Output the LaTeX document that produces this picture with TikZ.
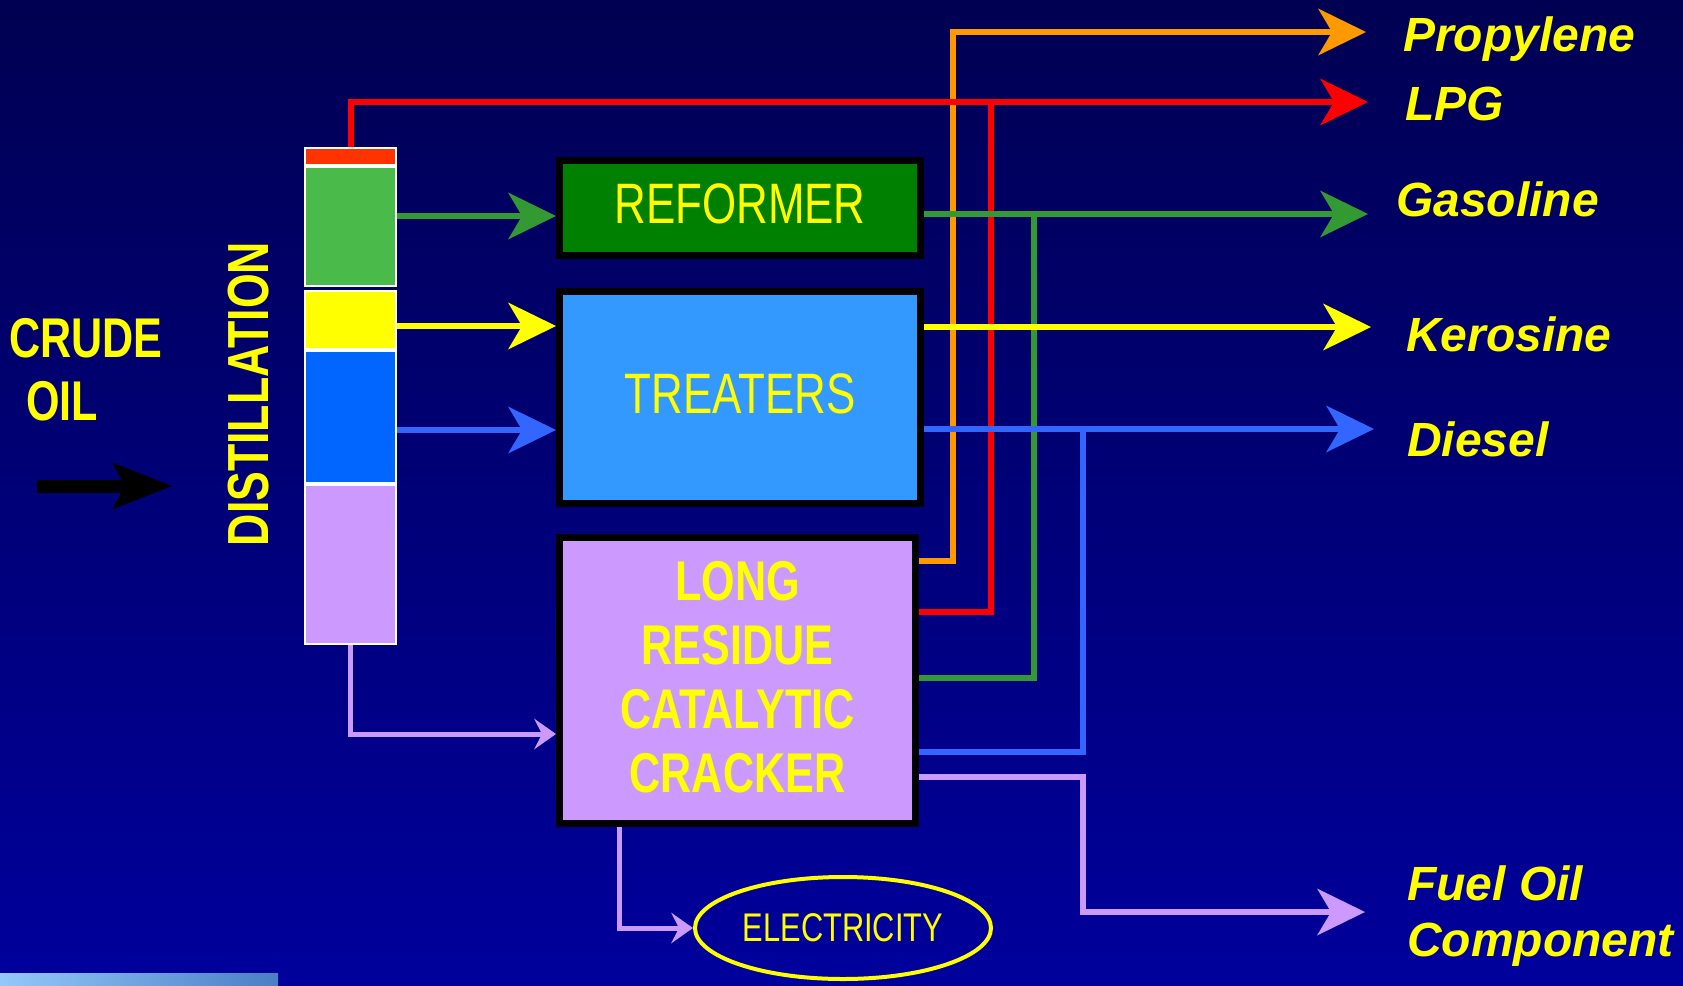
\documentclass[tikz,border=0pt]{standalone}
\usepackage{fontspec}
\setmainfont{Liberation Sans}
\newfontfamily\condfont[FakeStretch=0.77]{Liberation Sans}
\usepackage{tikz}
\usetikzlibrary{arrows.meta,shapes.geometric}
\definecolor{bgtop}{HTML}{000052}
\definecolor{bgbot}{HTML}{00009C}
\definecolor{flowred}{HTML}{FF0000}
\definecolor{floworange}{HTML}{FF9900}
\definecolor{flowgreen}{HTML}{339933}
\definecolor{flowyellow}{HTML}{FFFF00}
\definecolor{flowblue}{HTML}{3366FF}
\definecolor{flowlilac}{HTML}{CC99FF}
\definecolor{cutred}{HTML}{FF3300}
\definecolor{cutgreen}{HTML}{4ABA4A}
\definecolor{cutblue}{HTML}{0066FF}
\definecolor{reformgreen}{HTML}{008000}
\definecolor{treatblue}{HTML}{3399FF}
\definecolor{barlight}{HTML}{94C8FA}
\definecolor{bardark}{HTML}{4A7EC6}
\tikzset{
  flowline/.style={line width=6pt},
  flowarrow/.style={flowline,-{Stealth[length=48pt,width=47pt,inset=14pt,line width=0pt]}},
  smallarrow/.style={line width=5pt,-{Stealth[length=22pt,width=31pt,inset=8pt,line width=0pt]}},
  feedarrow/.style={line width=13pt,black,-{Stealth[length=60pt,width=47pt,inset=13pt,line width=0pt]}},
  cell/.style={draw=white,line width=2pt,minimum width=91pt,inner sep=0pt},
  unitbox/.style={draw=black,line width=7pt,text=flowyellow,align=center,inner sep=0pt,text depth=8pt,
    font=\condfont\fontsize{57}{64}\selectfont},
  heading/.style={text=flowyellow,inner sep=0pt,font=\condfont\bfseries\fontsize{56}{63}\selectfont},
  product/.style={text=flowyellow,inner sep=0pt,anchor=base west,align=left,
    font=\bfseries\itshape\fontsize{48}{56}\selectfont}
}

\begin{document}
\begin{tikzpicture}[x=1pt,y=-1pt]
    \useasboundingbox (0,0) rectangle (1683,985);
    \shade[top color=bgtop,bottom color=bgbot] (0,0) rectangle (1683,985);
    \shade[left color=barlight,right color=bardark] (0,973) rectangle (278,985);

    \node[heading,anchor=base] (crude) at (86,357) {CRUDE};
    \node[heading,anchor=base] (oil) at (62,420) {OIL};
    \coordinate (feedtail) at (37,486);
    \coordinate (feedtip) at (172,486);
    \draw[feedarrow] (feedtail) -- (feedtip);
    \node[heading,rotate=90,font=\condfont\bfseries\fontsize{58}{64}\selectfont] (distil) at (249,394) {DISTILLATION};

    \foreach \nm/\cutcol/\ya/\yb in {cellR/cutred/147/166,cellG/cutgreen/166/287,cellY/flowyellow/290/350,cellB/cutblue/350/484,cellL/flowlilac/484/645}
      \node[cell,fill=\cutcol,minimum height={\yb-\ya-2}] (\nm) at (350.5,{(\ya+\yb)/2}) {};

    \node[unitbox,fill=reformgreen,minimum width=361pt,minimum height=95pt] (reformer) at (740,208) {REFORMER};
    \node[unitbox,fill=treatblue,minimum width=361pt,minimum height=212pt] (treaters) at (740,397.5) {TREATERS};
    \node[unitbox,fill=flowlilac,minimum width=356pt,minimum height=286pt,
      font=\condfont\bfseries\fontsize{56}{64}\selectfont] (lrcc) at (737.5,680.5) {LONG\\RESIDUE\\CATALYTIC\\CRACKER};
    \node[ellipse,draw=flowyellow,line width=4pt,minimum width=296pt,minimum height=102pt,inner sep=0pt,
      text=flowyellow,font=\condfont\fontsize{40}{48}\selectfont] (elec) at (843,928) {ELECTRICITY};

    \node[product] (propylene) at (1403,51) {Propylene};
    \node[product] (lpg) at (1405,120) {LPG};
    \node[product] (gasoline) at (1396,216) {Gasoline};
    \node[product] (kerosine) at (1406,351) {Kerosine};
    \node[product] (diesel) at (1407,456) {Diesel};
    \node[product] (fueloil) at (1407,956) {Fuel Oil\\Component};

    \coordinate (tipProp) at (1366,32);
    \coordinate (tipLPG) at (1368,102);
    \coordinate (tipGas) at (1368,214);
    \coordinate (tipKero) at (1371,327);
    \coordinate (tipDiesel) at (1374,429);
    \coordinate (tipFuel) at (1365,912);
    \coordinate (jOrange) at (953,32);
    \coordinate (jRed) at (991,102);
    \coordinate (jGreen) at (1034,214);
    \coordinate (jBlue) at (1083,429);
    \coordinate (jFuel) at (1083,912);

    \draw[flowarrow,floworange] (lrcc.east |- 0,561) -| (jOrange) -- (tipProp);
    \draw[flowline,flowred] (lrcc.east |- 0,612) -| (jRed);
    \draw[flowline,flowgreen] (lrcc.east |- 0,678) -| (jGreen);
    \draw[flowline,flowblue] (lrcc.east |- 0,752) -| (jBlue);
    \draw[flowarrow,flowlilac] (lrcc.east |- 0,777) -| (jFuel) -- (tipFuel);

    \draw[flowarrow,flowred] (cellR.north) |- (tipLPG);
    \draw[flowarrow,flowgreen] (cellG.east |- 0,216) -- (reformer.west |- 0,216);
    \draw[flowarrow,flowyellow] (cellY.east |- 0,326) -- (treaters.west |- 0,326);
    \draw[flowarrow,flowblue] (cellB.east |- 0,430) -- (treaters.west |- 0,430);
    \draw[smallarrow,flowlilac] (cellL.south) |- (lrcc.west |- 0,734);
    \draw[smallarrow,flowlilac] (lrcc.south -| 619,0) |- (elec.west);

    \draw[flowarrow,flowgreen] (reformer.east |- tipGas) -- (tipGas);
    \draw[flowarrow,flowyellow] (treaters.east |- tipKero) -- (tipKero);
    \draw[flowarrow,flowblue] (treaters.east |- tipDiesel) -- (tipDiesel);
\end{tikzpicture}
\end{document}
